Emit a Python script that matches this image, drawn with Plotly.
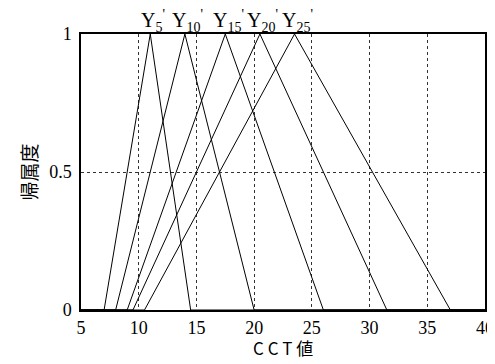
import plotly.graph_objects as go

# Membership function parameters (CCT value) for each fuzzy set
labels = ["5", "10", "15", "20", "25"]
left_feet = [7.0, 8.0, 9.0, 9.5, 10.5]
peaks = [11.0, 14.0, 17.5, 20.5, 23.5]
right_feet = [14.5, 20.0, 26.0, 31.5, 37.0]
x_min, x_max = 5, 40

x_ticks = [5, 10, 15, 20, 25, 30, 35, 40]
y_ticks = [0, 0.5, 1]
y_tick_text = ["0", "0.5", "1"]
x_title = "C C T 値"
y_title = "帰属度"

fig = go.Figure()
for lab, a, b, c in zip(labels, left_feet, peaks, right_feet):
    fig.add_trace(go.Scatter(
        x=[x_min, a, b, c, x_max], y=[0, 0, 1, 0, 0],
        mode="lines", line=dict(color="black", width=1),
        showlegend=False, hoverinfo="skip", cliponaxis=False,
    ))
    fig.add_annotation(
        x=b, y=1, xref="x", yref="y", yanchor="bottom", xanchor="center",
        text=f"Y<sub>{lab}</sub><sup>'</sup>",
        showarrow=False, xshift=3, yshift=-3,
        font=dict(family="Liberation Serif", size=20, color="black"),
    )

axis_common = dict(
    showline=True, mirror=True, linecolor="black", linewidth=1.5,
    showgrid=True, gridcolor="#333333", griddash="dot", gridwidth=1,
    zeroline=False, ticks="", color="black", automargin=False,
    tickfont=dict(family="Liberation Serif", size=18, color="black"),
)

fig.add_annotation(
    x=0.5, y=0, xref="paper", yref="paper", xanchor="center", yanchor="middle",
    yshift=-37, text=x_title, showarrow=False,
    font=dict(family="Noto Sans CJK JP", size=17, color="black"),
)

# page body adds an 8px offset; figure sized/margined to compensate
fig.update_layout(
    width=487, height=356,
    margin=dict(l=73, r=10, t=26, b=54),
    paper_bgcolor="white", plot_bgcolor="white",
    xaxis=dict(range=[x_min, x_max], tickvals=x_ticks, ticklabelstandoff=1, **axis_common),
    yaxis=dict(range=[0, 1], tickvals=y_ticks, ticktext=y_tick_text, ticklabelstandoff=4,
               **axis_common,
               title=dict(text=y_title, standoff=7,
                          font=dict(family="Noto Sans CJK JP", size=19, color="black"))),
)

fig.write_html("out.html")
